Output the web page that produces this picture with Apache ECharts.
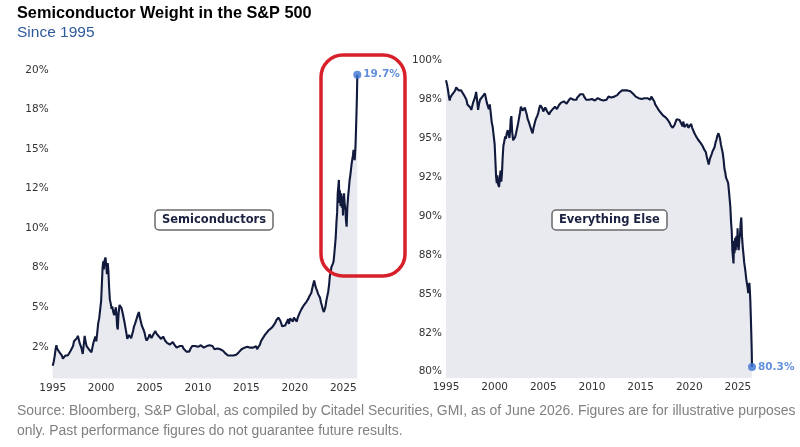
<!DOCTYPE html>
<html><head><meta charset="utf-8">
<script src="https://cdn.jsdelivr.net/npm/echarts@6/dist/echarts.min.js"></script>
<style>html,body{margin:0;padding:0;background:#fff}#c{width:800px;height:447px}</style>
</head><body><div id="c"></div>
<script>
// Decimal years
const dates = [
1995.00,1995.10,1995.20,1995.30,1995.38,1995.45,1995.55,1995.65,1995.80,1995.95,
1996.05,1996.15,1996.30,1996.45,1996.55,1996.70,1996.85,1996.95,1997.10,1997.20,
1997.30,1997.40,1997.50,1997.60,1997.70,1997.80,1997.90,1998.00,1998.10,1998.20,
1998.30,1998.40,1998.50,1998.60,1998.70,1998.80,1998.90,1999.00,1999.10,1999.20,
1999.30,1999.40,1999.50,1999.60,1999.70,1999.80,1999.90,2000.00,2000.08,2000.15,
2000.22,2000.28,2000.35,2000.45,2000.52,2000.60,2000.68,2000.75,2000.82,2000.90,
2001.00,2001.08,2001.15,2001.25,2001.35,2001.45,2001.52,2001.58,2001.65,2001.72,
2001.80,2001.90,2002.00,2002.10,2002.20,2002.30,2002.40,2002.50,2002.60,2002.70,
2002.78,2002.88,2002.98,2003.10,2003.20,2003.30,2003.40,2003.50,2003.60,2003.70,
2003.80,2003.90,2004.00,2004.10,2004.20,2004.30,2004.40,2004.50,2004.60,2004.70,
2004.80,2004.90,2005.00,2005.10,2005.20,2005.30,2005.40,2005.50,2005.60,2005.70,
2005.80,2005.90,2006.00,2006.10,2006.20,2006.30,2006.40,2006.50,2006.60,2006.70,
2006.80,2006.90,2007.00,2007.10,2007.20,2007.30,2007.40,2007.50,2007.60,2007.70,
2007.80,2007.90,2008.00,2008.10,2008.20,2008.30,2008.40,2008.50,2008.60,2008.70,
2008.80,2008.90,2009.00,2009.10,2009.20,2009.30,2009.40,2009.50,2009.60,2009.70,
2009.80,2009.90,2010.00,2010.10,2010.20,2010.30,2010.40,2010.50,2010.60,2010.70,
2010.80,2010.90,2011.00,2011.10,2011.20,2011.30,2011.40,2011.50,2011.60,2011.70,
2011.80,2011.90,2012.00,2012.10,2012.20,2012.30,2012.40,2012.50,2012.60,2012.70,
2012.80,2012.90,2013.00,2013.10,2013.20,2013.35,2013.50,2013.65,2013.80,2013.95,
2014.10,2014.20,2014.30,2014.40,2014.50,2014.60,2014.70,2014.80,2014.90,2015.00,
2015.10,2015.20,2015.30,2015.40,2015.50,2015.60,2015.70,2015.80,2015.90,2016.00,
2016.10,2016.20,2016.30,2016.40,2016.50,2016.60,2016.70,2016.80,2016.90,2017.00,
2017.10,2017.20,2017.30,2017.40,2017.50,2017.60,2017.70,2017.80,2017.90,2018.00,
2018.10,2018.20,2018.30,2018.40,2018.50,2018.60,2018.70,2018.80,2018.90,2019.00,
2019.10,2019.20,2019.30,2019.40,2019.50,2019.60,2019.70,2019.80,2019.90,2020.00,
2020.10,2020.20,2020.30,2020.40,2020.50,2020.60,2020.70,2020.80,2020.90,2021.00,
2021.10,2021.20,2021.30,2021.40,2021.50,2021.60,2021.70,2021.80,2021.90,2022.00,
2022.05,2022.10,2022.20,2022.30,2022.40,2022.50,2022.60,2022.70,2022.80,2022.90,
2023.00,2023.08,2023.15,2023.25,2023.35,2023.45,2023.55,2023.62,2023.70,2023.78,
2023.85,2023.92,2024.00,2024.08,2024.15,2024.22,2024.30,2024.37,2024.43,2024.50,
2024.55,2024.60,2024.65,2024.72,2024.78,2024.85,2024.92,2024.97,2025.02,2025.08,
2025.15,2025.22,2025.28,2025.35,2025.42,2025.50,2025.58,2025.65,2025.72,2025.78,
2025.85,2025.92,2026.00,2026.06,2026.12,2026.18,2026.24,2026.28,2026.33,2026.38,
2026.42,2026.45
];
// Semiconductor weight (%)
const semis = [
1.30,1.55,1.90,2.35,2.60,2.40,2.45,2.20,2.25,1.95,
1.75,1.85,1.95,2.05,1.95,2.10,2.25,2.20,2.55,2.85,
2.95,2.80,3.05,3.20,2.95,2.70,2.55,2.35,2.05,2.60,
3.20,2.80,2.55,2.65,2.45,2.30,2.20,2.15,2.45,2.75,
2.95,3.15,2.85,3.40,4.00,4.30,4.85,5.40,6.50,7.50,
7.90,7.40,7.95,8.15,7.70,7.10,7.80,7.30,6.30,5.50,
5.20,4.90,5.05,4.70,4.50,4.40,5.00,4.60,3.80,3.60,
4.60,5.15,5.10,4.95,4.70,4.40,4.10,3.75,3.40,3.00,
2.90,3.25,3.30,3.05,3.15,3.50,3.80,3.95,4.15,4.25,
4.55,4.70,4.35,4.10,3.85,3.70,3.55,3.35,3.05,2.90,
2.85,3.10,3.30,3.20,3.05,3.15,3.30,3.40,3.50,3.35,
3.25,3.20,3.30,3.15,3.00,2.90,3.15,3.10,2.90,2.80,
2.75,2.85,2.75,2.65,2.60,2.70,2.80,2.75,2.60,2.55,
2.45,2.40,2.45,2.55,2.50,2.45,2.55,2.40,2.35,2.30,
2.20,2.15,2.10,2.20,2.35,2.45,2.55,2.50,2.60,2.55,
2.65,2.55,2.50,2.55,2.45,2.60,2.55,2.50,2.45,2.40,
2.45,2.55,2.60,2.65,2.60,2.55,2.50,2.55,2.45,2.35,
2.40,2.35,2.40,2.45,2.40,2.35,2.30,2.30,2.25,2.20,
2.10,2.05,2.00,1.95,2.00,1.95,2.00,1.95,2.00,2.00,
2.05,2.15,2.20,2.25,2.35,2.40,2.35,2.45,2.50,2.45,
2.50,2.55,2.50,2.45,2.40,2.35,2.45,2.50,2.45,2.55,
2.35,2.30,2.40,2.65,2.85,2.95,3.05,3.10,3.25,3.30,
3.40,3.45,3.55,3.50,3.60,3.70,3.80,3.85,3.95,4.05,
4.20,4.30,4.35,4.25,4.15,4.05,3.80,3.75,3.70,3.85,
3.95,4.10,4.25,3.95,4.30,4.40,4.30,4.10,4.35,4.45,
4.30,4.10,4.35,4.50,4.65,4.75,4.90,4.95,5.10,5.15,
5.20,5.35,5.45,5.55,5.70,5.80,5.90,6.20,6.45,6.70,
6.75,6.40,6.20,6.05,5.85,5.75,5.60,5.30,5.10,4.85,
4.70,4.60,5.00,5.40,5.70,6.00,6.50,7.00,7.20,7.55,
7.65,7.75,7.90,8.40,8.90,9.40,10.40,11.00,12.20,12.70,
13.05,11.60,12.40,11.40,12.20,11.30,12.00,10.80,11.90,12.20,
11.50,11.20,10.50,10.10,11.30,12.00,12.50,13.00,13.30,13.60,
14.00,14.30,14.60,14.95,14.60,14.30,14.90,15.50,16.50,17.60,
18.60,19.70
];
// Everything else weight (%)
const everythingElse = [
98.70,98.45,98.10,97.65,97.40,97.60,97.55,97.80,97.75,98.05,
98.25,98.15,98.05,97.95,98.05,97.90,97.75,97.80,97.45,97.15,
97.05,97.20,96.95,96.80,97.05,97.30,97.45,97.65,97.95,97.40,
96.80,97.20,97.45,97.35,97.55,97.70,97.80,97.85,97.55,97.25,
97.05,96.85,97.15,96.60,96.00,95.70,95.15,94.60,93.50,92.50,
92.10,92.60,92.05,91.85,92.30,92.90,92.20,92.70,93.70,94.50,
94.80,95.10,94.95,95.30,95.50,95.60,95.00,95.40,96.20,96.40,
95.40,94.85,94.90,95.05,95.30,95.60,95.90,96.25,96.60,97.00,
97.10,96.75,96.70,96.95,96.85,96.50,96.20,96.05,95.85,95.75,
95.45,95.30,95.65,95.90,96.15,96.30,96.45,96.65,96.95,97.10,
97.15,96.90,96.70,96.80,96.95,96.85,96.70,96.60,96.50,96.65,
96.75,96.80,96.70,96.85,97.00,97.10,96.85,96.90,97.10,97.20,
97.25,97.15,97.25,97.35,97.40,97.30,97.20,97.25,97.40,97.45,
97.55,97.60,97.55,97.45,97.50,97.55,97.45,97.60,97.65,97.70,
97.80,97.85,97.90,97.80,97.65,97.55,97.45,97.50,97.40,97.45,
97.35,97.45,97.50,97.45,97.55,97.40,97.45,97.50,97.55,97.60,
97.55,97.45,97.40,97.35,97.40,97.45,97.50,97.45,97.55,97.65,
97.60,97.65,97.60,97.55,97.60,97.65,97.70,97.70,97.75,97.80,
97.90,97.95,98.00,98.05,98.00,98.05,98.00,98.05,98.00,98.00,
97.95,97.85,97.80,97.75,97.65,97.60,97.65,97.55,97.50,97.55,
97.50,97.45,97.50,97.55,97.60,97.65,97.55,97.50,97.55,97.45,
97.65,97.70,97.60,97.35,97.15,97.05,96.95,96.90,96.75,96.70,
96.60,96.55,96.45,96.50,96.40,96.30,96.20,96.15,96.05,95.95,
95.80,95.70,95.65,95.75,95.85,95.95,96.20,96.25,96.30,96.15,
96.05,95.90,95.75,96.05,95.70,95.60,95.70,95.90,95.65,95.55,
95.70,95.90,95.65,95.50,95.35,95.25,95.10,95.05,94.90,94.85,
94.80,94.65,94.55,94.45,94.30,94.20,94.10,93.80,93.55,93.30,
93.25,93.60,93.80,93.95,94.15,94.25,94.40,94.70,94.90,95.15,
95.30,95.40,95.00,94.60,94.30,94.00,93.50,93.00,92.80,92.45,
92.35,92.25,92.10,91.60,91.10,90.60,89.60,89.00,87.80,87.30,
86.95,88.40,87.60,88.60,87.80,88.70,88.00,89.20,88.10,87.80,
88.50,88.80,89.50,89.90,88.70,88.00,87.50,87.00,86.70,86.40,
86.00,85.70,85.40,85.05,85.40,85.70,85.10,84.50,83.50,82.40,
81.40,80.30
];
const yearTicks = [1995, 2000, 2005, 2010, 2015, 2020, 2025];
const leftTickValues = [2.5, 5, 7.5, 10, 12.5, 15, 17.5, 20];
const leftTickLabels = ['2%', '5%', '8%', '10%', '12%', '15%', '18%', '20%'];
const rightTickValues = [80, 82.5, 85, 87.5, 90, 92.5, 95, 97.5, 100];
const rightTickLabels = ['80%', '82%', '85%', '88%', '90%', '92%', '95%', '98%', '100%'];

const LINE = '#111a3c', FILL = '#e9eaf0', BLUE = '#3b74d4', TICK = '#333333';
const tickFont = 'DejaVu Sans';

function labelFor(vals, labs) {
  return function (v) {
    for (let i = 0; i < vals.length; i++) if (Math.abs(vals[i] - v) < 1e-6) return labs[i];
    return '';
  };
}
const n = dates.length;
const semiData = dates.map((d, i) => [d, semis[i]]);
const elseData = dates.map((d, i) => [d, everythingElse[i]]);

function xAx(idx) {
  return {
    type: 'value', gridIndex: idx, min: dates[0], max: dates[n - 1],
    axisLine: { show: false }, axisTick: { show: false }, splitLine: { show: false },
    axisLabel: { customValues: yearTicks, margin: 4, color: TICK, fontSize: 10.5, fontFamily: tickFont,
      formatter: v => String(Math.round(v)) }
  };
}
function yAx(idx, min, max, vals, labs) {
  return {
    type: 'value', gridIndex: idx, min: min, max: max,
    axisLine: { show: false }, axisTick: { show: false }, splitLine: { show: false },
    axisLabel: { customValues: vals, margin: 4, color: TICK, fontSize: 10.5, fontFamily: tickFont,
      formatter: labelFor(vals, labs) }
  };
}
const boxStyle = {
  padding: [3, 7], borderColor: '#6a6a6a', borderWidth: 1.5, borderRadius: 4, backgroundColor: '#fff',
  textStyle: { fontSize: 11.5, fontWeight: 'bold', fontFamily: 'DejaVu Sans', color: '#1b2240', lineHeight: 14 }
};

const chart = echarts.init(document.getElementById('c'), null, { renderer: 'canvas' });
chart.setOption({
  animation: false,
  backgroundColor: '#fff',
  title: [
    { text: 'Semiconductor Weight in the S&P 500', left: 17, top: 5, padding: 0,
      textStyle: { fontSize: 16.3, fontWeight: 'bold', fontFamily: 'Liberation Sans', color: '#000', lineHeight: 17 } },
    { text: 'Since 1995', left: 17, top: 25, padding: 0,
      textStyle: { fontSize: 15.5, fontWeight: 'normal', fontFamily: 'Liberation Sans', color: '#2e5a9c', lineHeight: 16 } },
    { text: 'Source: Bloomberg, S&P Global, as compiled by Citadel Securities, GMI, as of June 2026. Figures are for illustrative purposes\nonly. Past performance figures do not guarantee future results.',
      left: 17, top: 401, padding: 0,
      textStyle: { fontSize: 13.95, fontWeight: 'normal', fontFamily: 'Liberation Sans', color: '#808080', lineHeight: 20 } },
    Object.assign({ text: 'Semiconductors', left: 155, top: 210 }, boxStyle),
    Object.assign({ text: 'Everything Else', left: 552, top: 210 }, boxStyle)
  ],
  grid: [
    { left: 52.7, top: 70, width: 304.6, height: 308.5 },
    { left: 446, top: 60, width: 306, height: 318 }
  ],
  xAxis: [xAx(0), xAx(1)],
  yAxis: [
    yAx(0, 0.5, 20, leftTickValues, leftTickLabels),
    yAx(1, 79.6, 100, rightTickValues, rightTickLabels)
  ],
  series: [
    { type: 'line', xAxisIndex: 0, yAxisIndex: 0, data: semiData, showSymbol: false, symbol: 'none',
      lineStyle: { color: LINE, width: 2.1 }, areaStyle: { color: FILL, opacity: 1, origin: 'start' } },
    { type: 'line', xAxisIndex: 1, yAxisIndex: 1, data: elseData, showSymbol: false, symbol: 'none',
      lineStyle: { color: LINE, width: 2.1 }, areaStyle: { color: FILL, opacity: 1, origin: 'start' } },
    { type: 'scatter', xAxisIndex: 0, yAxisIndex: 0, data: [semiData[n - 1]], symbolSize: 8,
      itemStyle: { color: BLUE }, z: 5,
      label: { show: true, position: 'right', distance: 2, color: BLUE, fontWeight: 'bold', fontSize: 10.5,
        fontFamily: 'DejaVu Sans', formatter: p => p.value[1].toFixed(1) + '%' } },
    { type: 'scatter', xAxisIndex: 1, yAxisIndex: 1, data: [elseData[n - 1]], symbolSize: 8,
      itemStyle: { color: BLUE }, z: 5,
      label: { show: true, position: 'right', distance: 2, color: BLUE, fontWeight: 'bold', fontSize: 10.5,
        fontFamily: 'DejaVu Sans', formatter: p => p.value[1].toFixed(1) + '%' } }
  ],
  graphic: [
    { type: 'rect', z: 100, shape: { x: 321, y: 55, width: 84, height: 221, r: 22 },
      style: { fill: 'none', stroke: '#d7202a', lineWidth: 3.5 } }
  ]
});
</script>
</body></html>
